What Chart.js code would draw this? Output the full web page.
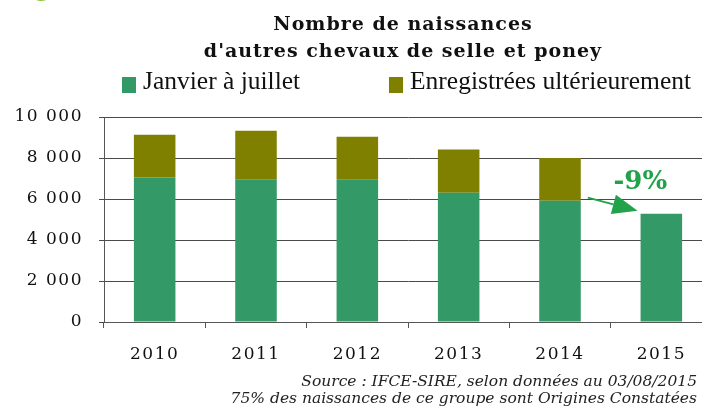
<!DOCTYPE html>
<html>
<head>
<meta charset="utf-8">
<script src="https://cdn.jsdelivr.net/npm/chart.js@4.4.0/dist/chart.umd.min.js"></script>
<style>
  html, body { margin: 0; padding: 0; background: #fff; overflow: hidden; }
  #wrap { width: 720px; height: 415px; position: relative; }
</style>
</head>
<body>
<div id="wrap"><canvas id="can"></canvas></div>
<script>
// data
var annees = ['2010', '2011', '2012', '2013', '2014', '2015'];
var janvierJuillet = [7050, 6960, 6940, 6310, 5920, 5280];
var enregistreesApres = [2090, 2370, 2100, 2100, 2080, null];
var yTicks = [0, 2000, 4000, 6000, 8000, 10000];
var titre = ['Nombre de naissances', "d'autres chevaux de selle et poney"];
var sources = ['Source : IFCE-SIRE, selon données au 03/08/2015',
               '75% des naissances de ce groupe sont Origines Constatées'];
var evolution = '-9%';

var vert = '#339966';
var olive = '#808000';

function fmt(v) {
    return String(v).replace(/\B(?=(\d{3})+(?!\d))/g, ' ');
}

var decor = {
    id: 'decor',
    beforeDraw: function (chart) {
        chart.ctx.letterSpacing = '1.5px';
    },
    afterDraw: function (chart) {
        var ctx = chart.ctx;
        ctx.save();
        ctx.letterSpacing = '0px';

        // bout de lettre coupé en haut
        ctx.fillStyle = '#8dc63f';
        ctx.font = 'bold 24px "DejaVu Sans"';
        ctx.textAlign = 'left';
        ctx.textBaseline = 'alphabetic';
        ctx.fillText('g', 34, -4);

        // titre
        ctx.fillStyle = '#111';
        ctx.textAlign = 'center';
        ctx.font = 'bold 19px "DejaVu Serif"';
        ctx.letterSpacing = '1px';
        ctx.fillText(titre[0], 403, 30);
        ctx.fillText(titre[1], 403, 57);
        ctx.letterSpacing = '0px';

        // légende
        var ds = chart.data.datasets;
        var lx = [122, 389];
        ctx.textAlign = 'left';
        ctx.font = '25.5px "Liberation Serif"';
        for (var i = 0; i < ds.length; i++) {
            ctx.fillStyle = ds[i].backgroundColor;
            ctx.fillRect(lx[i], 77, 14, 16);
            ctx.fillStyle = '#111';
            ctx.fillText(ds[i].label, lx[i] + 21, 89);
        }

        // flèche -9%
        var m0 = chart.getDatasetMeta(0).data;
        var y = chart.scales.y;
        var b4 = m0[4], b5 = m0[5];
        var x1 = b4.x + b4.width / 2 + 7, y1 = y.getPixelForValue(janvierJuillet[4]) - 3;
        var x2 = b5.x - b5.width / 2 - 3, y2 = y.getPixelForValue(janvierJuillet[5]) - 3;
        var ang = Math.atan2(y2 - y1, x2 - x1);
        var hl = 25, hw = 10;
        var bx = x2 - hl * Math.cos(ang), by = y2 - hl * Math.sin(ang);
        ctx.strokeStyle = '#22a24a';
        ctx.fillStyle = '#22a24a';
        ctx.lineWidth = 2;
        ctx.beginPath();
        ctx.moveTo(x1, y1);
        ctx.lineTo(bx, by);
        ctx.stroke();
        ctx.beginPath();
        ctx.moveTo(x2, y2);
        ctx.lineTo(bx - hw * Math.sin(ang), by + hw * Math.cos(ang));
        ctx.lineTo(bx + hw * Math.sin(ang), by - hw * Math.cos(ang));
        ctx.closePath();
        ctx.fill();
        ctx.font = 'bold 26px "DejaVu Serif"';
        ctx.textAlign = 'center';
        ctx.fillText(evolution, b5.x - 21, y.getPixelForValue(janvierJuillet[5]) - 25);

        // sources
        ctx.fillStyle = '#222';
        ctx.textAlign = 'right';
        ctx.font = 'italic 15.5px "DejaVu Serif"';
        ctx.fillText(sources[0], 697, 386);
        ctx.fillText(sources[1], 697, 403);
        ctx.restore();
    }
};

var ctx = document.getElementById('can').getContext('2d');

window.myBar = new Chart(ctx, {
    type: 'bar',
    data: {
        labels: annees,
        datasets: [
            {
                label: 'Janvier à juillet',
                backgroundColor: vert,
                data: janvierJuillet,
                barPercentage: 0.41,
                categoryPercentage: 1
            },
            {
                label: 'Enregistrées ultérieurement',
                backgroundColor: olive,
                data: enregistreesApres,
                barPercentage: 0.41,
                categoryPercentage: 1
            }
        ]
    },
    options: {
        responsive: true,
        maintainAspectRatio: false,
        animation: false,
        layout: { padding: { top: 117, right: 8, left: 0, bottom: 0 } },
        plugins: {
            legend: { display: false },
            title: { display: false },
            tooltip: { enabled: false }
        },
        scales: {
            x: {
                stacked: true,
                grid: { offset: true, drawOnChartArea: false, tickLength: 6, color: '#555' },
                border: { color: '#555' },
                ticks: { color: '#111', font: { family: 'DejaVu Serif', size: 17 }, padding: 16 },
                afterFit: function (s) { s.height = 93; }
            },
            y: {
                stacked: true,
                min: 0,
                max: 10000,
                afterBuildTicks: function (s) {
                    s.ticks = yTicks.map(function (v) { return { value: v }; });
                },
                grid: { color: '#4a4a4a', tickLength: 5 },
                border: { color: '#555' },
                ticks: {
                    color: '#111',
                    font: { family: 'DejaVu Serif', size: 17 },
                    padding: 16,
                    callback: function (v) { return fmt(v); }
                },
                afterFit: function (s) { s.width = 104; }
            }
        }
    },
    plugins: [decor]
});
</script>
</body>
</html>
